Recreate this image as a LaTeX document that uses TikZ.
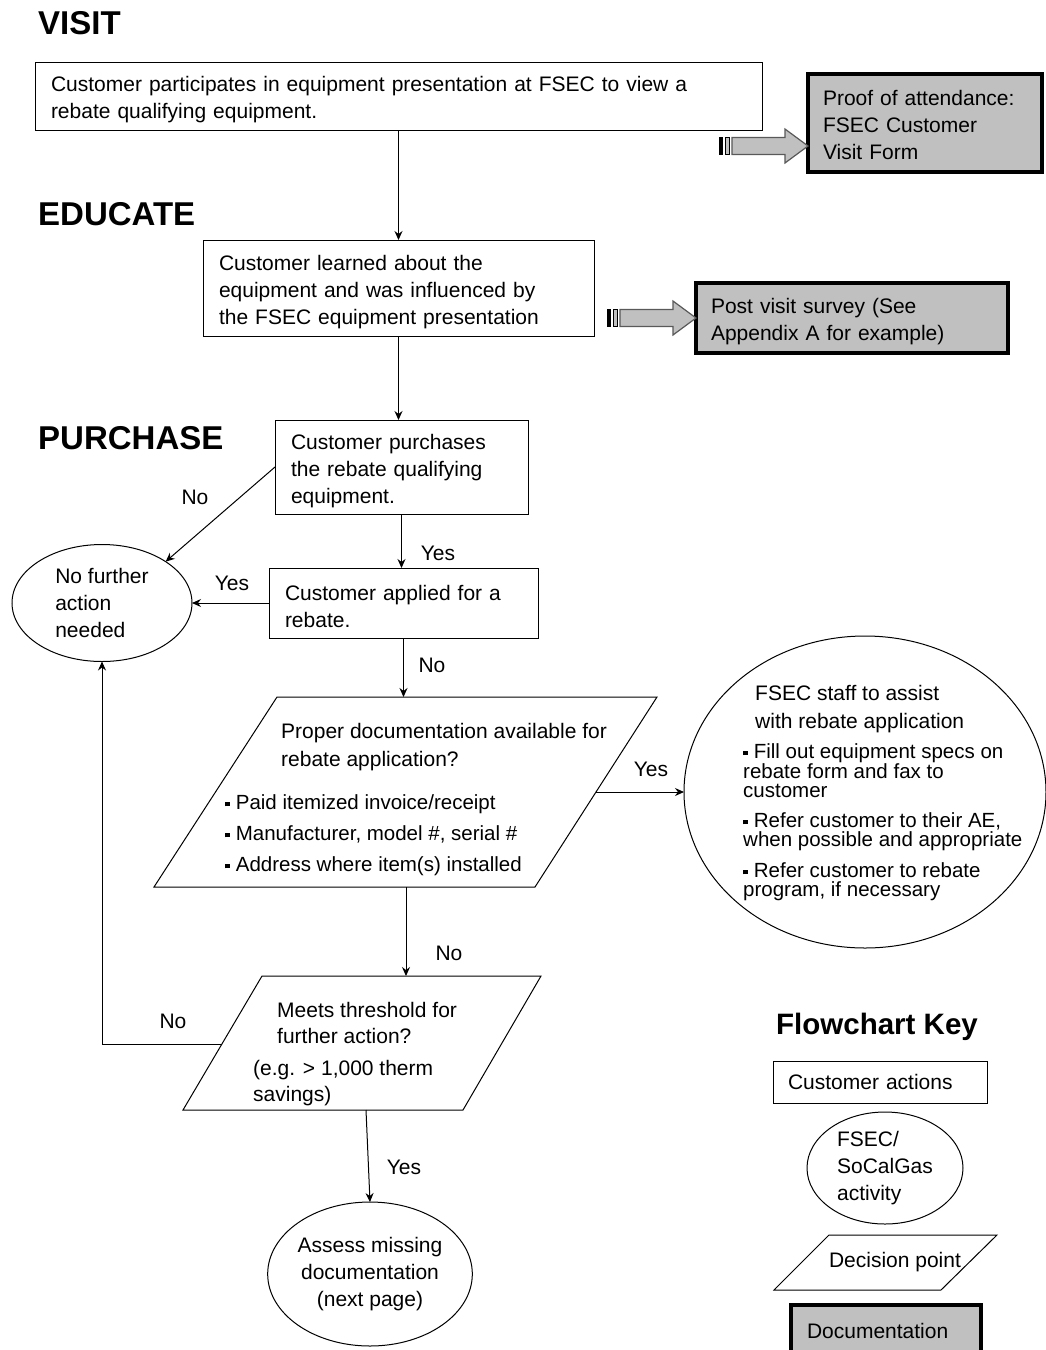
\documentclass[tikz,border=0pt]{standalone}
\usepackage{fontspec}
\setmainfont{Liberation Sans}
\usetikzlibrary{arrows.meta,
                positioning,
                shapes.geometric
                }
\definecolor{docgray}{RGB}{192,192,192}
\newcommand{\bodysize}{\fontsize{21}{27}\selectfont}
\newcommand{\smallsize}{\fontsize{20.5}{19}\selectfont}
\newcommand{\sqbul}{\raisebox{.28ex}{\rule{.22em}{.22em}}\hspace{.3em}}

\tikzset{
    custbox/.style={draw, line width=1pt, rectangle, align=left, inner xsep=16pt, inner ysep=0pt, outer sep=0pt, font=\bodysize},
    tallbox/.style={execute at begin node={\rule{0pt}{23pt}}},
    docbox/.style={draw, line width=4pt, fill=docgray, align=left, inner xsep=15pt, inner ysep=0pt, outer sep=0pt, font=\bodysize},
    activity/.style={draw, ellipse, line width=1pt, inner sep=0pt, outer sep=0pt, align=left, font=\bodysize},
    decision/.style={draw, line width=1pt},
    flow/.style={line width=1pt, -{Stealth[length=9pt, width=8pt, inset=3pt]}},
    lbl/.style={font=\bodysize, inner sep=0pt},
    heading/.style={font=\fontsize{33}{38}\selectfont\bfseries, anchor=base west, inner sep=0pt},
    docarrow/.pic={
        \draw[line width=1pt, fill=black] (-89,-8.5) rectangle (-86,8.5);
        \draw[line width=1pt, fill=docgray] (-83,-8.5) rectangle (-79,8.5);
        \draw[line width=1.2pt, draw=black!65, fill=docgray] (-76,-8.5) -- (-23,-8.5) -- (-23,-17) -- (0,0) -- (-23,17) -- (-23,8.5) -- (-76,8.5) -- cycle;
    }
}

\begin{document}
\begin{tikzpicture}[x=1pt, y=-1pt]
            \useasboundingbox (0,0) rectangle (1046,1350);

            %headings
            \node[heading] (hvisit) at (38,34) {VISIT};
            \node[heading] (heducate) at (38,225) {EDUCATE};
            \node[heading] (hpurchase) at (38,449) {PURCHASE};

            %customer actions
            \node[custbox, tallbox, text width=695pt, minimum height=68pt] (visit) at (398.5,96) {Customer participates in equipment presentation at FSEC to view a\\rebate qualifying equipment.};
            \node[custbox, tallbox, text width=359pt, minimum height=96pt] (learn) at (398.5,288) {Customer learned about the\\equipment and was influenced by\\the FSEC equipment presentation};
            \node[custbox, tallbox, text width=221pt, minimum height=94pt] (buy) at (401.5,467) {Customer purchases\\the rebate qualifying\\equipment.};
            \node[custbox, tallbox, text width=237pt, minimum height=70pt] (apply) at (403.5,603) {Customer applied for a\\rebate.};

            %documentation
            \node[docbox, execute at begin node={\rule{0pt}{20pt}}, text width=204pt, minimum width=234pt, minimum height=98pt] (proof) at (925,123) {Proof of attendance:\\FSEC Customer\\Visit Form};
            \node[docbox, tallbox, text width=282pt, minimum width=312pt, minimum height=70pt] (survey) at (852,318) {Post visit survey (See\\Appendix A for example)};
            \pic at ([yshift=-23pt]proof.west) {docarrow};
            \pic at (survey.west) {docarrow};

            %activities
            \node[activity, minimum width=180pt, minimum height=117pt] (nofurther) at (102,603) {No further\\action\\needed};
            \node[activity, minimum width=362pt, minimum height=312pt] (help) at (865,792) {};
            \node[lbl, anchor=west, align=left, font=\fontsize{21}{28}\selectfont] (helphead) at (755,709) {FSEC staff to assist\\with rebate application};
            \node[lbl, anchor=west, align=left, font=\smallsize] (helplist) at (743,822) {\sqbul Fill out equipment specs on\\rebate form and fax to\\customer\\[11pt]\sqbul Refer customer to their AE,\\when possible and appropriate\\[11pt]\sqbul Refer customer to rebate\\program, if necessary};
            \node[activity, align=center, minimum width=202pt, minimum height=144pt] (assess) at (370,1274) {Assess missing\\documentation\\(next page)};

            %decision points
            \draw[decision] (277,697) -- (657,697) -- (535,887) -- (154,887) -- cycle;
            \coordinate (dec1n) at (403.5,697);
            \coordinate (dec1s) at (406,887);
            \coordinate (dec1e) at (596,792);
            \node[lbl, anchor=west, align=left, font=\fontsize{21}{28}\selectfont] (dec1head) at (281,747) {Proper documentation available for\\rebate application?};
            \node[lbl, anchor=west, align=left, font=\fontsize{20.5}{31}\selectfont] (dec1list) at (225,835) {\sqbul Paid itemized invoice/receipt\\\sqbul Manufacturer, model \#, serial \#\\\sqbul Address where item(s) installed};

            \draw[decision] (262,976) -- (541,976) -- (463,1110) -- (183,1110) -- cycle;
            \coordinate (dec2n) at (406,976);
            \coordinate (dec2s) at (366,1110);
            \coordinate (dec2w) at (222,1044);
            \node[lbl, anchor=west, align=left, font=\fontsize{21}{26}\selectfont] (dec2head) at (277,1023) {Meets threshold for\\further action?};
            \node[lbl, anchor=west, align=left, font=\fontsize{21}{26}\selectfont] (dec2note) at (253,1083) {(e.g. > 1,000 therm\\savings)};

            %connectors
            \draw[flow] (visit) -- (learn);
            \draw[flow] (learn.south) -- (learn.south |- buy.north);
            \draw[flow] (buy.west) -- (nofurther.north east);
            \draw[flow] (buy.south) -- (buy.south |- apply.north);
            \draw[flow] (apply.west) -- (nofurther.east);
            \draw[flow] (apply.south) -- (dec1n);
            \draw[flow] (dec1e) -- (help.west);
            \draw[flow] (dec1s) -- (dec2n);
            \draw[flow] (dec2w) -| (nofurther.south);
            \draw[flow] (dec2s) -- (assess.north);

            %connector labels
            \node[lbl] (nobuy) at (195,497) {No};
            \node[lbl] (yesbuy) at (438,553) {Yes};
            \node[lbl] (yesapply) at (232,583) {Yes};
            \node[lbl] (noapply) at (432,665) {No};
            \node[lbl] (yesdoc) at (651,769) {Yes};
            \node[lbl] (nodoc) at (449,953) {No};
            \node[lbl] (nothresh) at (173,1021) {No};
            \node[lbl] (yesthresh) at (404,1167) {Yes};

            %key
            \node[heading, font=\fontsize{29.5}{34}\selectfont\bfseries] (hkey) at (776,1034) {Flowchart Key};
            \node[custbox, text width=184pt, inner xsep=15pt, minimum height=42pt] (keycust) at (880,1082) {Customer actions};
            \node[activity, minimum width=156pt, minimum height=112pt] (keyact) at (885,1168) {FSEC/\\SoCalGas\\activity};
            \draw[decision] (829,1235) -- (997,1235) -- (941,1290) -- (774,1290) -- cycle;
            \node[lbl] (keydec) at (895,1262) {Decision point};
            \node[docbox, text width=158pt, inner xsep=16pt, minimum width=190pt, minimum height=52pt] (keydoc) at (886,1331) {Documentation};
\end{tikzpicture}
\end{document}
